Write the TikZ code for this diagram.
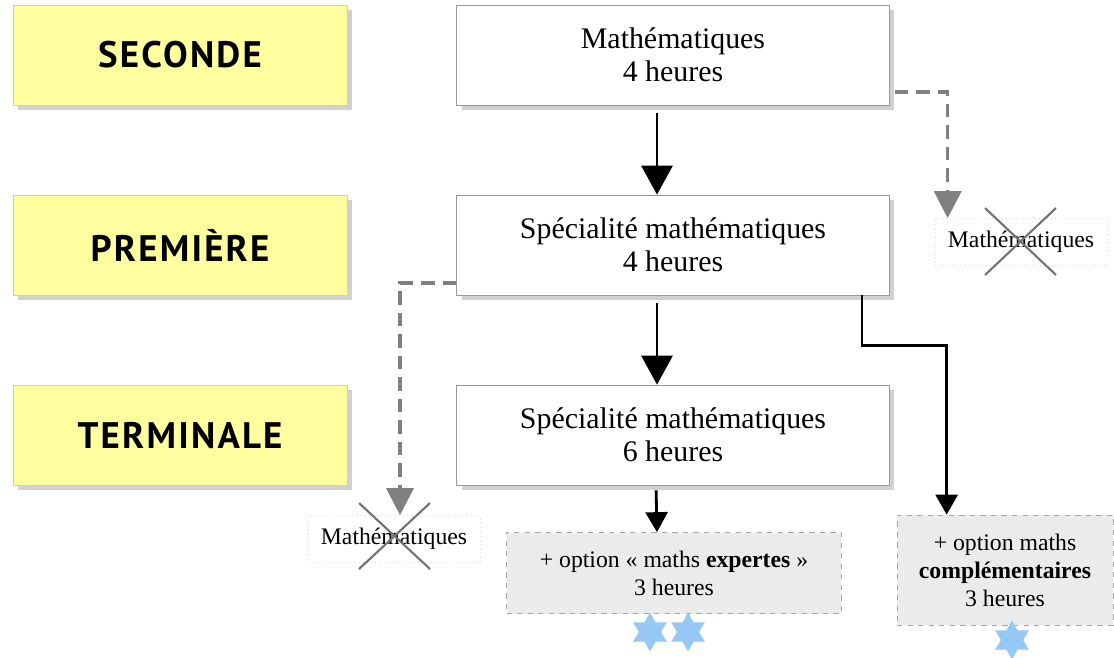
\documentclass[tikz,border=0pt]{standalone}
\usepackage{fontspec}
\setmainfont{Liberation Serif}
\newfontfamily\levelfont[LetterSpace=6]{PT Sans}
\usetikzlibrary{arrows.meta,shapes.geometric,shadows}

\definecolor{levelyellow}{RGB}{255,255,160}
\definecolor{levelborder}{RGB}{215,215,140}
\definecolor{optgray}{RGB}{235,235,235}
\definecolor{starblue}{RGB}{150,200,245}

\begin{document}
\begin{tikzpicture}[x=0.02cm,y=-0.02cm,
	level/.style={draw=levelborder, fill=levelyellow, minimum width=6.68cm, minimum height=2cm,
		font=\levelfont\bfseries\fontsize{21}{24}\selectfont,
		copy shadow={shadow xshift=0.1cm, shadow yshift=-0.1cm, fill=black!18, draw=none}},
	box/.style={draw=black!40, fill=white, minimum width=8.66cm, minimum height=2cm, align=center,
		font=\fontsize{17}{19}\selectfont,
		copy shadow={shadow xshift=0.1cm, shadow yshift=-0.1cm, fill=black!18, draw=none}},
	opt/.style={draw=black!35, dashed, fill=optgray, align=center, font=\fontsize{13.5}{16}\selectfont},
	struck/.style={draw=black!15, dotted, fill=white, minimum width=3.44cm, minimum height=0.94cm,
		font=\fontsize{13.5}{16}\selectfont},
	etoile/.style={star, star points=6, star point ratio=1.75, fill=starblue, minimum size=0.78cm, inner sep=0pt},
	arr/.style={line width=1.6pt, -{Triangle[width=0.62cm,length=0.58cm]}},
	smallarr/.style={line width=1.6pt, -{Triangle[width=0.44cm,length=0.4cm]}},
	dasharr/.style={line width=2pt, black!50, dash pattern=on 0.27cm off 0.16cm,
		-{Triangle[width=0.54cm,length=0.54cm]}},
	cross/.style={black!55, line width=1.2pt}]
	\useasboundingbox (0,0) rectangle (1114,657);

	% niveaux
	\node[level] (sec) at (180,55) {SECONDE};
	\node[level] (prem) at (180,245) {PREMIÈRE};
	\node[level] (term) at (180,435) {TERMINALE};

	% enseignements
	\node[box] (math) at (673,55) {Mathématiques\\4 heures};
	\node[box] (spe1) at (673,245) {Spécialité mathématiques\\4 heures};
	\node[box] (spe2) at (673,435) {Spécialité mathématiques\\6 heures};

	\node[struck] (mathR) at (1021,242) {Mathématiques};
	\node[struck] (mathL) at (394,539) {Mathématiques};
	\node[opt, minimum width=6.7cm, minimum height=1.62cm] (expert) at (674,573)
		{+ option «~maths \textbf{expertes}~»\\3 heures};
	\node[opt, minimum width=4.32cm, minimum height=2.2cm] (compl) at (1005,570)
		{+ option maths\\\textbf{complémentaires}\\3 heures};

	\node[etoile] (s1) at (650,632) {};
	\node[etoile] (s2) at (688,632) {};
	\node[etoile] (s3) at (1012,640) {};

	% fleches
	\draw[arr, shorten <=0.16cm] ([xshift=-0.32cm]math.south) -- ([xshift=-0.32cm]spe1.north);
	\draw[arr, shorten <=0.16cm] ([xshift=-0.32cm]spe2.north |- spe1.south) -- ([xshift=-0.32cm]spe2.north);
	\draw[smallarr, shorten <=0.1cm] ([xshift=-0.34cm]spe2.south) -- ([xshift=-0.34cm]expert.north);
	\draw[smallarr] ([xshift=3.78cm]spe1.south) -- ++(0,50) -| ([xshift=1cm]compl.north west);
	\draw[dasharr, shorten <=0.1cm] ([yshift=-0.74cm]math.east) -| ([xshift=0.26cm]mathR.north west);
	\draw[dasharr] ([yshift=-0.76cm]spe1.west) -| ([xshift=0.12cm]mathL.north);

	% barres
	\draw[cross] ([shift={(-0.72cm,0.68cm)}]mathR.center) -- ([shift={(0.7cm,-0.66cm)}]mathR.center);
	\draw[cross] ([shift={(0.7cm,0.68cm)}]mathR.center) -- ([shift={(-0.72cm,-0.66cm)}]mathR.center);
	\draw[cross] ([shift={(-0.7cm,0.72cm)}]mathL.center) -- ([shift={(0.72cm,-0.6cm)}]mathL.center);
	\draw[cross] ([shift={(0.72cm,0.72cm)}]mathL.center) -- ([shift={(-0.7cm,-0.6cm)}]mathL.center);
\end{tikzpicture}
\end{document}
